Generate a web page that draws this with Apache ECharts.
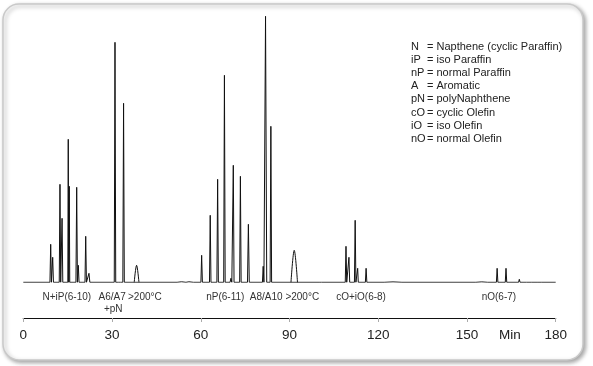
<!DOCTYPE html>
<html>
<head>
<meta charset="utf-8">
<script src="https://cdn.jsdelivr.net/npm/echarts@6/dist/echarts.min.js"></script>
<style>
html,body{margin:0;padding:0;background:#fff;}
#c{width:593px;height:366px;}
</style>
</head>
<body>
<div id="c"></div>
<script>
// Sharp peaks: retention time (min), height (signal units), base half-width (min)
var peakTimes   = [9.26, 9.94, 12.4, 13.1, 15.2, 15.55, 18.05, 18.6, 21.1, 22.2, 31.0, 31.8, 32.6, 33.9,
                   53.5, 56.0, 60.3, 63.2, 65.7, 68.0, 70.2, 71.0, 73.4, 76.1, 81.1, 81.9, 83.7,
                   100.4, 109.1, 110.1, 112.2, 113.05, 115.9, 125.0, 155.0,
                   160.2, 163.2, 167.7, 170.5, 172.2, 174.0, 175.6];
var peakHeights = [38, 25, 98, 64, 143, 96, 95, 17, 46, 9, 240, 2, 2, 179,
                   0.5, 0.5, 27, 67, 103, 207, 4, 117, 106, 58, 16, 266, 156,
                   1, 36, 25, 62, 14, 14, 0.4, 0.4,
                   14, 14, 3, 1, 1.2, 1, 1];
var peakWidths  = [0.25, 0.25, 0.25, 0.25, 0.15, 0.15, 0.25, 0.25, 0.25, 0.3, 0.25, 0.3, 0.3, 0.25,
                   1.5, 1.5, 0.25, 0.25, 0.25, 0.25, 0.3, 0.25, 0.25, 0.3, 0.25, 0.4, 0.25,
                   0.4, 0.25, 0.25, 0.25, 0.2, 0.25, 3, 2,
                   0.25, 0.25, 0.25, 0.3, 0.3, 0.3, 0.3];
// Broad (rounded) peaks
var broadTimes   = [38.3, 91.6];
var broadHeights = [17, 32];
var broadWidths  = [0.8, 1.1];

var axisTicks = [0, 30, 60, 90, 120, 150, 180];
var axisUnit = 'Min';
var axisUnitTime = 164.5;

var groupLabels = ['N+iP(6-10)', 'A6/A7', '+pN', '>200°C', 'nP(6-11)', 'A8/A10 >200°C', 'cO+iO(6-8)', 'nO(6-7)'];
var groupTimes  = [14.7, 30.05, 30.4, 41.1, 68.3, 88.3, 114.2, 160.8];
var groupRow    = [0, 0, 1, 0, 0, 0, 0, 0];

var legendKeys = ['N', 'iP', 'nP', 'A', 'pN', 'cO', 'iO', 'nO'];
var legendDesc = ['= Napthene (cyclic Paraffin)', '= iso Paraffin', '= normal Paraffin', '= Aromatic',
                  '= polyNaphthene', '= cyclic Olefin', '= iso Olefin', '= normal Olefin'];

// Build trace (table for the library) from the peak arrays
var trace = [[axisTicks[0], 0]];
for (var i = 0; i < peakTimes.length; i++) {
  trace.push([peakTimes[i] - peakWidths[i], 0]);
  trace.push([peakTimes[i], peakHeights[i]]);
  trace.push([peakTimes[i] + peakWidths[i], 0]);
}
trace.push([axisTicks[axisTicks.length - 1], 0]);
var broad = [];
for (var j = 0; j < broadTimes.length; j++) {
  broad.push([broadTimes[j] - broadWidths[j], 0]);
  broad.push([broadTimes[j], broadHeights[j]]);
  broad.push([broadTimes[j] + broadWidths[j], 0]);
  broad.push(['-', '-']);
}

var FONT = 'Liberation Sans, Arial, sans-serif';
var chart = echarts.init(document.getElementById('c'), null, {renderer: 'canvas'});
var option = {
  animation: false,
  backgroundColor: '#ffffff',
  grid: {left: 23.3, right: 37.3, top: 12.3, bottom: 83.7},
  xAxis: {
    type: 'value', min: 0, max: 180, interval: 30, offset: 35.7,
    axisLine: {show: true, onZero: false, lineStyle: {color: '#111', width: 1.2}},
    axisTick: {show: true, length: 4, lineStyle: {color: '#aaa'}},
    splitLine: {show: false},
    axisLabel: {margin: 10, fontSize: 13.5, color: '#222', fontFamily: FONT}
  },
  yAxis: {type: 'value', min: 0, max: 270, show: false, splitLine: {show: false}},
  series: [
    {type: 'line', data: trace, showSymbol: false, symbol: 'none',
     lineStyle: {color: '#111', width: 1}, z: 3},
    {type: 'line', data: broad, showSymbol: false, symbol: 'none', smooth: 0.35, connectNulls: false,
     lineStyle: {color: '#111', width: 1}, z: 3}
  ]
};
chart.setOption(option);

var g = [];
g.push({type: 'rect', z: -10, silent: true,
  shape: {x: 3, y: 4, width: 580, height: 356, r: 16},
  style: {fill: '#fff', stroke: '#c9c9c9', lineWidth: 1.5,
          shadowBlur: 4, shadowColor: 'rgba(0,0,0,0.35)', shadowOffsetX: 2, shadowOffsetY: 2}});
var baseY = chart.convertToPixel({gridIndex: 0}, [0, 0])[1];
for (var k = 0; k < groupLabels.length; k++) {
  var px = chart.convertToPixel({gridIndex: 0}, [groupTimes[k], 0])[0];
  g.push({type: 'text', z: 10, x: px, y: baseY + 15.4 + groupRow[k] * 11.6,
    style: {text: groupLabels[k], fill: '#333', font: '10px ' + FONT, textAlign: 'center', textVerticalAlign: 'middle'}});
}
var up = chart.convertToPixel({gridIndex: 0}, [axisUnitTime, 0])[0];
g.push({type: 'text', z: 10, x: up, y: baseY + 53.4,
  style: {text: axisUnit, fill: '#222', font: '13.5px ' + FONT, textAlign: 'center', textVerticalAlign: 'middle'}});
for (var m = 0; m < legendKeys.length; m++) {
  var ly = 47 + m * 13.1;
  g.push({type: 'text', z: 10, x: 411, y: ly,
    style: {text: legendKeys[m], fill: '#222', font: '11px ' + FONT, textAlign: 'left', textVerticalAlign: 'middle'}});
  g.push({type: 'text', z: 10, x: 427, y: ly,
    style: {text: legendDesc[m], fill: '#222', font: '11px ' + FONT, textAlign: 'left', textVerticalAlign: 'middle'}});
}
chart.setOption({graphic: g});
</script>
</body>
</html>
